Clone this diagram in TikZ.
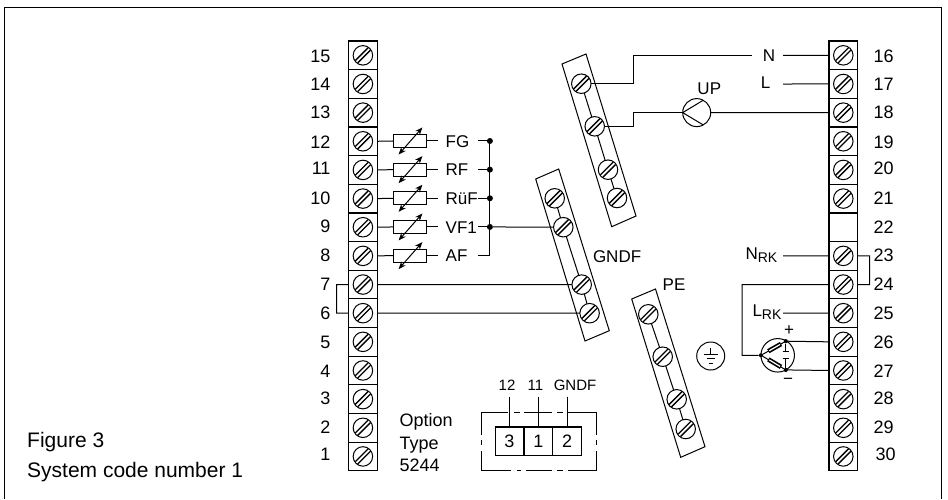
\documentclass[tikz,border=0pt]{standalone}
\usepackage{fontspec}
\setmainfont{Liberation Sans}
\usetikzlibrary{arrows.meta,calc}
\newcommand{\sz}[1]{\fontsize{#1}{#1}\selectfont}
\tikzset{
  wire/.style={line width=1pt,line cap=butt},
  cellbox/.style={draw,line width=1.2pt,minimum width=28.7pt,minimum height=28.65pt,inner sep=0pt,outer sep=0pt},
  screw/.style={draw,fill=white,circle,line width=1pt,minimum size=#1,inner sep=0pt,outer sep=0pt,
    path picture={
      \draw[line width=1.3pt] ([shift={(-7.6,5.2)}]path picture bounding box.center) -- ([shift={(5.2,-7.6)}]path picture bounding box.center);
      \draw[line width=1.3pt] ([shift={(-5.2,7.6)}]path picture bounding box.center) -- ([shift={(7.6,-5.2)}]path picture bounding box.center);
    }},
  screw/.default=19.5pt,
  barbox/.style={line width=1pt},
  resbox/.style={draw,line width=1.1pt,minimum width=32.6pt,minimum height=13pt,inner sep=0pt,outer sep=0pt},
  junction/.style={circle,fill=black,inner sep=0pt,minimum size=#1},
  junction/.default=6pt,
  num/.style={inner sep=0pt,outer sep=0pt,font=\sz{18}},
  txt/.style={inner sep=0pt,outer sep=0pt,font=\sz{17}},
  smalltxt/.style={inner sep=0pt,outer sep=0pt,font=\sz{15}},
  plug/.style={draw,line width=1.1pt,minimum width=28.7pt,minimum height=28.7pt,inner sep=0pt,outer sep=0pt,font=\sz{18}},
  adj/.style={line width=1pt,{Stealth[length=7.5pt,width=6pt]}-{Stealth[length=7.5pt,width=6pt]}},
}
\begin{document}
\begin{tikzpicture}[x=1pt,y=-1pt]
\useasboundingbox (0,0) rectangle (948,499);
% frame
\draw[line width=1pt] (4.5,499) -- (4.5,7) -- (941.7,7) -- (941.7,499);

% terminal strips
\foreach \n in {1,...,15}{
  \pgfmathsetmacro{\yy}{41+28.65*(15-\n+0.5)}
  \node[cellbox] (cL\n) at (362.9,\yy) {};
  \node[screw] (tL\n) at (362.9,\yy) {};
}
\foreach \n in {16,...,30}{
  \pgfmathsetmacro{\yy}{41+28.65*(\n-16+0.5)}
  \node[cellbox] (cR\n) at (843.3,\yy) {};
  \ifnum\n=22\relax\else\node[screw] (tR\n) at (843.3,\yy) {};\fi
}
% numbers left
\foreach \n/\yy in {15/55.3,14/83.7,13/111.5,12/141.7,11/168,10/198,9/226,8/255,7/284,6/313,5/342,4/370.5,3/398,2/426.5,1/453.5}
  \node[num,anchor=mid east] (nL\n) at (330.5,\yy+4.1) {\n};
% numbers right
\foreach \n/\yy in {16/55.3,17/83.7,18/112,19/141.5,20/168,21/198,22/226.5,23/255,24/284,25/313,26/342,27/371,28/398,29/427}
  \node[num,anchor=mid west] (nR\n) at (873.5,\yy+4.1) {\n};
\node[num,anchor=mid west] (nR30) at (875.5,457.5) {30};

% sensors on the left strip
\foreach \n/\lab in {12/FG,11/RF,10/RüF,9/VF1,8/AF}{
  \path (cL\n.center) ++(47.3,-0.3) node[resbox] (res\n) {};
  \draw[wire] (cL\n.east) -- (res\n.west);
  \draw[adj] ([shift={(-11.6,13.5)}]res\n.center) -- ([shift={(12.2,-13.5)}]res\n.center);
  \path (res\n.center) ++(28,0) coordinate (rs\n);
  \draw[wire] (res\n.east) -- (rs\n);
  \path (res\n.center) ++(35.5,3.6) node[txt,anchor=mid west] (lab\n) {\lab};
  \path (res\n.center) ++(68,0) coordinate (st\n);
  \path (res\n.center) ++(79.7,0) coordinate (bus\n);
  \draw[wire] (st\n) -- (bus\n);
}
\draw[wire] (bus12) -- (bus8);
\foreach \n in {12,11,10,9} \node[junction] (dot\n) at (bus\n) {};

% jumper 7-6
\coordinate (j7) at (336.5,284.6);
\coordinate (j6) at (336.5,313.2);
\draw[wire] (cL7.west) -- (j7) -- (j6) -- (cL6.west);

% GNDF bar
\draw[barbox] (535.7,179) -- (558.7,169) -- (609.3,330.7) -- (585,341) -- cycle;
\node[screw] (g1) at (554.7,198.3) {};
\node[screw] (g2) at (563.3,227.2) {};
\node[screw] (g3) at (581.7,284.6) {};
\node[screw] (g4) at (589.6,313.2) {};
\draw[wire] (g1) -- (g2); \draw[wire] (g2) -- (g3); \draw[wire] (g3) -- (g4);
\draw[wire] (dot9) -- (g2.west);
\draw[wire] (cL7.east) -- (g3.west);
\draw[wire] (cL6.east) -- (g4.west);
\node[txt,anchor=mid west] (gndfl) at (593,259.5) {GNDF};

% top bar
\draw[barbox] (562,64) -- (586,54) -- (636,216) -- (611.7,226.7) -- cycle;
\node[screw] (a1) at (581.3,83.7) {};
\node[screw] (a2) at (594.7,126.3) {};
\node[screw] (a3) at (608,169.7) {};
\node[screw] (a4) at (617,198) {};
\draw[wire] (a1) -- (a2); \draw[wire] (a2) -- (a3); \draw[wire] (a3) -- (a4);
\coordinate (ka) at (633.3,83.7);
\coordinate (kb) at (633.3,55.3);
\coordinate (nw) at (751.7,55.3);
\draw[wire] (a1.east) -- (ka) -- (kb) -- (nw);
\node[txt] (Nl) at (769,55.3) {N};
\coordinate (ne) at (783,55.3);
\draw[wire] (ne) -- (cR16.west);
\node[txt] (Ll) at (765.7,83) {L};
\coordinate (le) at (783,84);
\draw[wire] (le) -- (cR17.west);

% pump
\node[draw,circle,line width=1pt,minimum size=28pt,inner sep=0pt,outer sep=0pt] (pump) at (696.7,112.6) {};
\draw[wire] (pump.62) -- (pump.180) -- (pump.-62);
\draw[wire] (pump.east) -- (cR18.west);
\coordinate (kc) at (633.3,126.3);
\coordinate (kd) at (633.3,112.6);
\draw[wire] (a2.east) -- (kc) -- (kd) -- (pump.west);
\node[txt] (UPl) at (709.3,88.5) {UP};

% N_RK, L_RK
\node[txt,anchor=mid west] (Nrk) at (745.5,257) {N\raisebox{-3pt}{\sz{14}RK}};
\coordinate (nrke) at (783,255.9);
\draw[wire] (nrke) -- (cR23.west);
\node[txt,anchor=mid west] (Lrk) at (752.5,314) {L\raisebox{-3pt}{\sz{14}RK}};
\coordinate (lrke) at (783,313.2);
\draw[wire] (lrke) -- (cR25.west);
\coordinate (j23) at (869.7,255.9);
\coordinate (j24) at (869.7,284.6);
\draw[wire] (cR23.east) -- (j23) -- (j24) -- (cR24.east);

% sensor on the right strip
\node[draw,circle,line width=1pt,minimum size=33.5pt,inner sep=0pt,outer sep=0pt] (rk) at (777.7,355.3) {};
\node[junction=4.2pt] (rkA) at (761,355.3) {};
\node[junction=4.2pt] (rkB) at (785.8,341.2) {};
\node[junction=4.2pt] (rkC) at (785.8,369.9) {};
\draw[wire] (rkA) -- (rkB); \draw[wire] (rkA) -- (rkC);
\draw[line width=4.6pt] (768.3,351.2) -- (781,344.0);
\draw[line width=4.6pt] (768.3,359.4) -- (781,366.9);
\draw[line width=1.2pt,white] (769.3,350.7) -- (780,344.5);
\draw[line width=1.2pt,white] (769.3,359.9) -- (780,366.4);
\draw[wire] (rkB) -- (785.8,351.7);
\draw[wire] (782.7,351.7) -- (788.9,351.7);
\draw[wire] (rkC) -- (785.8,358.6);
\draw[wire] (782.7,358.6) -- (788.9,358.6);
\draw[wire] (rkB) -- (cR26.west);
\draw[wire] (rkC) -- (cR27.west);
\coordinate (ll1) at (742,284.6);
\coordinate (ll2) at (742,355.3);
\draw[wire] (cR24.west) -- (ll1) -- (ll2) -- (rkA);
\node[txt] (plus) at (789,330.7) {+};
\node[txt] (minus) at (788,381) {−};

% PE bar
\draw[barbox] (631.7,299) -- (655.5,289) -- (705,446.7) -- (680.7,457.3) -- cycle;
\node[screw] (p1) at (648.3,314.3) {};
\node[screw] (p2) at (662.7,356.7) {};
\node[screw] (p3) at (676.7,399.3) {};
\node[screw] (p4) at (685.7,429) {};
\draw[wire] (p1) -- (p2); \draw[wire] (p2) -- (p3); \draw[wire] (p3) -- (p4);
\node[txt] (PEl) at (674,284.5) {PE};

% earth symbol
\node[draw,circle,line width=1pt,minimum size=28pt,inner sep=0pt,outer sep=0pt] (earth) at (710.7,356) {};
\draw[wire] (710.7,347.5) -- (710.7,354);
\draw[wire] (703.7,354) -- (717.7,354);
\draw[wire] (706.7,358.7) -- (714.7,358.7);
\draw[wire] (708.7,363.3) -- (712.7,363.3);

% option
\node[plug] (o3) at (509.4,441.3) {3};
\node[plug] (o1) at (538.3,441.3) {1};
\node[plug] (o2) at (567,441.3) {2};
\node[smalltxt] (tw) at (507,385.5) {12};
\node[smalltxt] (el) at (535.5,385.5) {11};
\node[smalltxt] (gn) at (575,385.5) {GNDF};
\coordinate (tb) at (509.4,396.7);
\coordinate (eb) at (538.3,396.7);
\coordinate (gb) at (567,396.7);
\draw[wire] (tb) -- (o3.north);
\draw[wire] (eb) -- (o1.north);
\draw[wire] (gb) -- (o2.north);
\draw[wire] (507.7,412.7) -- (481,412.7) -- (481,435);
\draw[wire] (514,412.7) -- (520,412.7);
\draw[wire] (524,412.7) -- (551.7,412.7);
\draw[wire] (557,412.7) -- (563,412.7);
\draw[wire] (568,412.7) -- (596,412.7) -- (596,435);
\draw[wire] (481,440) -- (481,444.5);
\draw[wire] (596,440) -- (596,444.5);
\draw[wire] (481,451) -- (481,470.3) -- (510.7,470.3);
\draw[wire] (596,451) -- (596,470.3) -- (568,470.3);
\draw[wire] (517,470.3) -- (521,470.3);
\draw[wire] (526,470.3) -- (552,470.3);
\draw[wire] (557,470.3) -- (563,470.3);
\node[num,anchor=mid west] (op1) at (399.5,424) {Option};
\node[num,anchor=mid west] (op2) at (399.5,447) {Type};
\node[num,anchor=mid west] (op3) at (399.5,469) {5244};

% caption
\node[anchor=mid west,inner sep=0pt,font=\sz{21}] (cap1) at (27,445) {Figure 3};
\node[anchor=mid west,inner sep=0pt,font=\sz{21}] (cap2) at (27,474.5) {System code number 1};
\end{tikzpicture}
\end{document}
